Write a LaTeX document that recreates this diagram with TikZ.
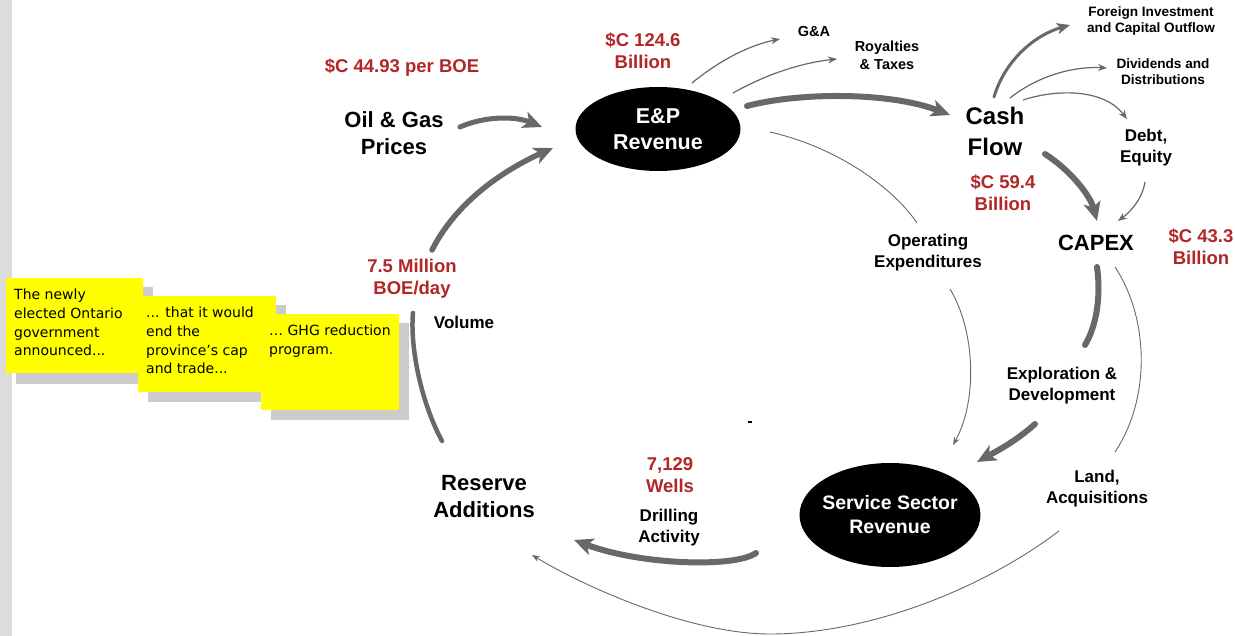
\documentclass[tikz,border=0pt]{standalone}
\usepackage{fontspec}
\setmainfont{Liberation Sans}
\newfontfamily\notefont{DejaVu Sans}
\usetikzlibrary{shapes.geometric,arrows.meta}
\definecolor{valred}{RGB}{178,38,40}
\definecolor{arrgray}{RGB}{104,104,104}
\definecolor{notey}{RGB}{255,255,0}
\definecolor{shadowg}{RGB}{204,204,204}
\definecolor{bargray}{RGB}{220,220,220}
\begin{document}
\begin{tikzpicture}[x=1pt,y=-1pt,
  big/.style={font=\bfseries\fontsize{22}{27}\selectfont, align=center, inner sep=0pt},
  mid/.style={font=\bfseries\fontsize{17}{21}\selectfont, align=center, inner sep=0pt},
  small/.style={font=\bfseries\fontsize{14.5}{18}\selectfont, align=center, inner sep=0pt},
  tiny/.style={font=\bfseries\fontsize{13.6}{16}\selectfont, align=center, inner sep=0pt},
  val/.style={font=\bfseries\fontsize{18.5}{22}\selectfont, align=center, inner sep=0pt, text=valred},
  blob/.style={ellipse, fill=black, inner sep=0pt},
  blobtext/.style={text=white, align=center, inner sep=0pt},
  note/.style={fill=notey, inner sep=0pt, anchor=north west},
  notetext/.style={font=\notefont\fontsize{14}{18.7}\selectfont, align=left, inner sep=0pt, anchor=north west},
  thickarr/.style={draw=arrgray, line width=5.5pt, line cap=round, -{Stealth[length=19pt,width=17pt,inset=5pt]}},
  medarr/.style={draw=arrgray, line width=3pt, line cap=round, -{Stealth[length=13pt,width=11pt,inset=3pt]}},
  thinarr/.style={draw=arrgray, line width=1.2pt, -{Stealth[length=9pt,width=7pt]}},
  hairarr/.style={draw=arrgray, line width=0.9pt, -{Stealth[length=8pt,width=6pt]}},
  hair/.style={draw=arrgray, line width=0.9pt},
  thickline/.style={draw=arrgray, line width=5pt, line cap=round}
]
\useasboundingbox (0,0) rectangle (1235,636);
\fill[white] (0,0) rectangle (1235,636);
\fill[bargray] (0,0) rectangle (12,636);

% sticky notes
\fill[shadowg] (16,287) rectangle (153,384);
\node[note, minimum width=137pt, minimum height=95pt] (n1) at (6,278) {};
\node[notetext] (t1) at (14,289) {The newly\\elected Ontario\\government\\announced...};
\fill[shadowg] (148,305) rectangle (286,402);
\node[note, minimum width=138pt, minimum height=96pt] (n2) at (138,296) {};
\node[notetext] (t2) at (146,307) {... that it would\\end the\\province’s cap\\and trade...};
\fill[shadowg] (271,323) rectangle (409,420);
\node[note, minimum width=138pt, minimum height=96pt] (n3) at (261,314) {};
\node[notetext] (t3) at (269,325) {… GHG reduction\\program.};

% labels and nodes
\node[val] (price) at (402,68) {\$C 44.93 per BOE};
\node[big] (oil) at (394,133) {Oil \& Gas\\Prices};
\node[blob, minimum width=165pt, minimum height=84pt] (ep) at (658,129) {};
\node[blobtext, font=\bfseries\fontsize{21.5}{26}\selectfont] (eptext) at (ep.center) {E\&P\\Revenue};
\node[val] (epval) at (643,51) {\$C 124.6\\Billion};
\node[small] (ga) at (814,32) {G\&A};
\node[small] (roy) at (887,55) {Royalties\\\& Taxes};
\node[tiny] (foreign) at (1151,21) {Foreign Investment\\and Capital Outflow};
\node[tiny] (div) at (1163,72) {Dividends and\\Distributions};
\node[font=\bfseries\fontsize{24}{31}\selectfont, align=center, inner sep=0pt] (cash) at (995,131) {Cash\\Flow};
\node[mid] (debt) at (1146,148) {Debt,\\Equity};
\node[val] (cashval) at (1003,193) {\$C 59.4\\Billion};
\node[big] (capex) at (1096,243) {CAPEX};
\node[val] (capval) at (1201,247) {\$C 43.3\\Billion};
\node[mid] (opex) at (928,253) {Operating\\Expenditures};
\node[mid] (expl) at (1062,386) {Exploration \&\\Development};
\node[mid] (land) at (1097,489) {Land,\\Acquisitions};
\node[blob, minimum width=181pt, minimum height=104pt] (svc) at (890,515) {};
\node[blobtext, font=\bfseries\fontsize{19.5}{24}\selectfont] (svctext) at (svc.center) {Service Sector\\Revenue};
\node[val] (wells) at (670,475) {7,129\\Wells};
\node[mid] (drill) at (669,528) {Drilling\\Activity};
\node[big] (res) at (484,497) {Reserve\\Additions};
\node[val] (vol) at (412,279) {7.5 Million\\BOE/day};
\node[mid] (volume) at (464,322) {Volume};

% connector end points
\coordinate (oilS) at (460,127); \coordinate (oilE) at (542,127);
\coordinate (volS) at (432,250); \coordinate (volE) at (553,148);
\coordinate (resT) at (442,441); \coordinate (volB) at (413,313);
\coordinate (epC) at (747,106);  \coordinate (cashW) at (950,115);
\coordinate (epG) at (692,83);   \coordinate (gaE) at (780,39);
\coordinate (epR) at (733,93);   \coordinate (royE) at (837,59);
\coordinate (epO) at (770,132);  \coordinate (opexT) at (917,223);
\coordinate (opexB) at (950,289); \coordinate (svcO) at (953,445);
\coordinate (cashF) at (994,97); \coordinate (forE) at (1070,25);
\coordinate (cashD) at (1010,98); \coordinate (divE) at (1107,68);
\coordinate (cashQ) at (1023,100); \coordinate (debtE) at (1127,119);
\coordinate (cashK) at (1045,154); \coordinate (capT) at (1097,221);
\coordinate (debtS) at (1145,182); \coordinate (capT2) at (1118,221);
\coordinate (capB) at (1097,267); \coordinate (explT) at (1085,345);
\coordinate (capL) at (1115,267); \coordinate (landT) at (1115,452);
\coordinate (explB) at (1035,424); \coordinate (svcE) at (977,462);
\coordinate (landB) at (1059,531); \coordinate (arcBot) at (770,634); \coordinate (resB) at (532,555);
\coordinate (svcD) at (756,553); \coordinate (resE) at (574,540);
\coordinate (tickA) at (748,422); \coordinate (tickB) at (752,422);

% connectors
\draw[thickarr, line width=5pt] (oilS) .. controls (485,116) and (515,116) .. (oilE);
\draw[thickarr] (volS) .. controls (460,195) and (515,165) .. (volE);
\draw[thickline, line width=4.5pt] (resT) .. controls (420,400) and (410,345) .. (volB);
\draw[thickarr, line width=6pt] (epC) .. controls (800,92) and (890,92) .. (cashW);
\draw[thinarr] (epG) .. controls (720,60) and (750,45) .. (gaE);
\draw[thinarr] (epR) .. controls (765,75) and (800,63) .. (royE);
\draw[hair] (epO) .. controls (840,148) and (895,190) .. (opexT);
\draw[hairarr] (opexB) .. controls (975,330) and (978,400) .. (svcO);
\draw[medarr] (cashF) .. controls (1005,60) and (1035,35) .. (forE);
\draw[thinarr] (cashD) .. controls (1035,78) and (1070,66) .. (divE);
\draw[thinarr] (cashQ) .. controls (1060,88) and (1105,90) .. (debtE);
\draw[thickarr, line width=6pt] (cashK) .. controls (1070,170) and (1090,195) .. (capT);
\draw[thinarr] (debtS) .. controls (1142,200) and (1130,212) .. (capT2);
\draw[thickline, line width=6pt] (capB) .. controls (1101,295) and (1097,325) .. (explT);
\draw[hair] (capL) .. controls (1150,320) and (1150,400) .. (landT);
\draw[thickarr, line width=6pt] (explB) .. controls (1015,442) and (995,452) .. (svcE);
\draw[hairarr] (landB) .. controls (984,588) and (870,634) .. (arcBot) .. controls (690,634) and (585,587) .. (resB);
\draw[thickarr, line width=6pt] (svcD) .. controls (735,568) and (640,565) .. (resE);
\draw[line width=1.2pt] (tickA) -- (tickB);
\end{tikzpicture}
\end{document}
